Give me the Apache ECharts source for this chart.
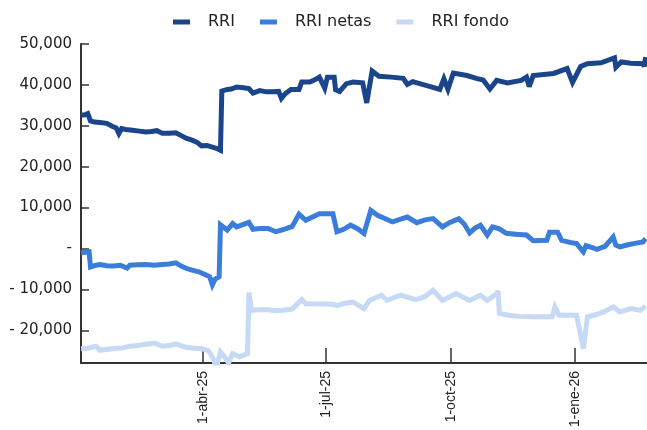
<!DOCTYPE html>
<html>
<head>
<meta charset="utf-8">
<script src="https://cdn.jsdelivr.net/npm/echarts@6/dist/echarts.min.js"></script>
<style>
html,body{margin:0;padding:0;background:#fff;}
#chart{width:647px;height:430px;}
</style>
</head>
<body>
<div id="chart"></div>
<script>
const seriesNames = ['RRI', 'RRI netas', 'RRI fondo'];

const rriDates = ['2025-01-01','2025-01-04','2025-01-06','2025-01-08','2025-01-11','2025-01-15','2025-01-20','2025-01-24','2025-01-27','2025-01-29','2025-01-31','2025-02-03','2025-02-08','2025-02-13','2025-02-18','2025-02-22','2025-02-26','2025-03-02','2025-03-07','2025-03-12','2025-03-16','2025-03-20','2025-03-24','2025-03-28','2025-03-31','2025-04-04','2025-04-08','2025-04-11','2025-04-14','2025-04-15','2025-04-19','2025-04-22','2025-04-26','2025-05-01','2025-05-05','2025-05-08','2025-05-13','2025-05-18','2025-05-23','2025-05-27','2025-05-29','2025-06-01','2025-06-05','2025-06-11','2025-06-13','2025-06-19','2025-06-23','2025-06-26','2025-06-30','2025-07-02','2025-07-07','2025-07-08','2025-07-11','2025-07-16','2025-07-21','2025-07-28','2025-07-31','2025-08-04','2025-08-09','2025-08-18','2025-08-27','2025-08-30','2025-09-03','2025-09-16','2025-09-23','2025-09-26','2025-09-29','2025-10-03','2025-10-13','2025-10-20','2025-10-25','2025-10-30','2025-11-04','2025-11-12','2025-11-22','2025-11-26','2025-11-28','2025-12-01','2025-12-16','2025-12-26','2025-12-30','2026-01-05','2026-01-10','2026-01-20','2026-01-30','2026-01-31','2026-02-04','2026-02-11','2026-02-20','2026-02-21','2026-02-22'];
const rriValues = [32600,32700,33000,31200,30900,30800,30600,29900,29500,28100,29300,29100,28900,28700,28500,28600,28800,28200,28200,28300,27600,26900,26500,25900,25100,25200,24800,24500,24000,38500,38900,39000,39500,39300,39100,38000,38600,38300,38300,38400,36700,37900,38900,38900,40700,40700,41300,41900,39200,41900,41900,38800,38400,40300,40700,40500,35600,43400,42100,41900,41600,40100,40800,39600,38900,41500,38900,42900,42300,41600,41200,39000,41100,40500,41100,41900,39600,42300,42800,44000,40600,44500,45200,45400,46600,44300,45600,45300,45200,44500,46800];

const netasDates = ['2025-01-01','2025-01-04','2025-01-07','2025-01-08','2025-01-12','2025-01-15','2025-01-20','2025-01-25','2025-01-30','2025-02-04','2025-02-06','2025-02-12','2025-02-18','2025-02-24','2025-03-02','2025-03-07','2025-03-12','2025-03-16','2025-03-20','2025-03-24','2025-03-29','2025-04-03','2025-04-06','2025-04-08','2025-04-10','2025-04-13','2025-04-14','2025-04-17','2025-04-19','2025-04-23','2025-04-26','2025-05-01','2025-05-05','2025-05-08','2025-05-13','2025-05-19','2025-05-25','2025-05-29','2025-06-02','2025-06-06','2025-06-11','2025-06-16','2025-06-21','2025-06-26','2025-07-06','2025-07-09','2025-07-14','2025-07-19','2025-07-24','2025-07-29','2025-08-03','2025-08-08','2025-08-13','2025-08-19','2025-08-25','2025-08-30','2025-09-06','2025-09-12','2025-09-18','2025-09-25','2025-09-30','2025-10-07','2025-10-11','2025-10-15','2025-10-19','2025-10-23','2025-10-28','2025-11-01','2025-11-06','2025-11-11','2025-11-18','2025-11-26','2025-12-01','2025-12-11','2025-12-13','2025-12-19','2025-12-22','2025-12-28','2026-01-02','2026-01-07','2026-01-09','2026-01-13','2026-01-17','2026-01-23','2026-01-29','2026-01-31','2026-02-03','2026-02-09','2026-02-15','2026-02-20','2026-02-22'];
const netasValues = [-1100,-900,-800,-4500,-4100,-3900,-4200,-4300,-4100,-4800,-4100,-4000,-3900,-4100,-3900,-3800,-3500,-4300,-4900,-5300,-5700,-6400,-6900,-8900,-7500,-6900,5800,5000,4500,6100,5300,5900,6400,4700,4900,4900,4100,4500,4900,5400,8400,6900,7700,8500,8500,4100,4700,5700,4900,3700,9300,8100,7400,6500,7200,7700,6300,7000,7300,5300,6300,7300,6000,3800,5000,5700,3300,5300,4800,3700,3500,3300,1900,2000,4000,4000,2000,1500,1200,-800,700,300,-200,500,2800,800,400,900,1300,1600,2400];

const fondoDates = ['2025-01-01','2025-01-06','2025-01-12','2025-01-15','2025-01-24','2025-02-01','2025-02-06','2025-02-12','2025-02-18','2025-02-24','2025-03-02','2025-03-07','2025-03-12','2025-03-20','2025-03-31','2025-04-05','2025-04-08','2025-04-11','2025-04-14','2025-04-17','2025-04-20','2025-04-23','2025-04-28','2025-05-04','2025-05-05','2025-05-07','2025-05-12','2025-05-18','2025-05-24','2025-05-30','2025-06-06','2025-06-13','2025-06-16','2025-06-26','2025-07-04','2025-07-09','2025-07-15','2025-07-21','2025-07-29','2025-08-02','2025-08-11','2025-08-15','2025-08-25','2025-09-05','2025-09-12','2025-09-18','2025-09-25','2025-10-05','2025-10-15','2025-10-23','2025-10-28','2025-11-04','2025-11-05','2025-11-06','2025-11-14','2025-11-21','2025-12-03','2025-12-15','2025-12-17','2025-12-20','2026-01-02','2026-01-07','2026-01-10','2026-01-16','2026-01-22','2026-01-29','2026-02-03','2026-02-11','2026-02-18','2026-02-22'];
const fondoValues = [-24500,-24400,-23900,-24900,-24500,-24300,-23900,-23700,-23400,-23100,-23900,-23700,-23400,-24200,-24500,-25000,-26500,-29000,-25300,-26500,-28000,-25700,-26500,-25700,-10800,-15100,-15000,-14900,-15200,-15100,-14800,-12500,-13500,-13600,-13600,-13900,-13400,-13100,-14700,-12700,-11400,-12700,-11400,-12500,-11800,-10200,-12700,-11000,-12700,-11400,-12700,-11000,-10400,-15900,-16400,-16600,-16700,-16700,-14300,-16300,-16300,-24500,-16700,-16200,-15500,-14300,-15500,-14700,-15100,-14100];

const xTickDates = ['2025-04-01','2025-07-01','2025-10-01','2026-01-01'];
const yTickValues = [-20000,-10000,0,10000,20000,30000,40000,50000];
const monthNames = ['ene','feb','mar','abr','may','jun','jul','ago','sep','oct','nov','dic'];

const colors = ['#1b458a','#3b7ddb','#c6d9f5'];

function ts(s){ const p=s.split('-').map(Number); return Date.UTC(p[0],p[1]-1,p[2]); }
function zip(d, v){ return d.map((x,i)=>[ts(x), v[i]]); }

const lineStyle = (c)=>({width:5, color:c, join:'miter', miterLimit:3});

const chart = echarts.init(document.getElementById('chart'), null, {renderer:'canvas'});
chart.setOption({
  animation:false,
  color: colors,
  legend:{
    left:168, top:9,
    itemWidth:17, itemHeight:5, itemGap:25,
    icon:'rect',
    textStyle:{fontFamily:'DejaVu Sans', fontSize:16, color:'#222', padding:[0,0,0,13]},
    data: seriesNames
  },
  grid:{left:81, right:0, top:44, bottom:67, outerBoundsMode:'none', containLabel:false},
  xAxis:{
    type:'value',
    min: ts('2025-01-01'), max: ts('2026-02-23'),
    axisLine:{show:true, onZero:false, lineStyle:{color:'#333', width:2}},
    axisTick:{show:true, inside:true, length:15, lineStyle:{color:'#333', width:1.5}, customValues: xTickDates.map(ts)},
    axisLabel:{
      rotate:90, margin:8, fontFamily:'Liberation Sans', fontSize:14, color:'#222',
      customValues: xTickDates.map(ts),
      formatter: function(v){ const d=new Date(v); return '1-'+monthNames[d.getUTCMonth()]+'-'+String(d.getUTCFullYear()).slice(2); }
    },
    splitLine:{show:false}
  },
  yAxis:{
    type:'value', min:-28000, max:50000,
    axisLine:{show:true, lineStyle:{color:'#333', width:2}},
    axisTick:{show:true, inside:true, length:8, lineStyle:{color:'#333', width:1.5}, customValues: yTickValues},
    axisLabel:{
      margin:9, fontFamily:'DejaVu Sans', fontSize:15, color:'#222',
      customValues: yTickValues,
      formatter: function(v){ if(v===0) return '-'; const s=Math.abs(v).toLocaleString('en-US'); return v<0 ? '- '+s : s; }
    },
    splitLine:{show:false}
  },
  series:[
    {name:seriesNames[0], type:'line', showSymbol:false, data: zip(rriDates, rriValues), lineStyle:lineStyle(colors[0]), itemStyle:{color:colors[0]}},
    {name:seriesNames[1], type:'line', showSymbol:false, data: zip(netasDates, netasValues), lineStyle:lineStyle(colors[1]), itemStyle:{color:colors[1]}},
    {name:seriesNames[2], type:'line', showSymbol:false, data: zip(fondoDates, fondoValues), lineStyle:lineStyle(colors[2]), itemStyle:{color:colors[2]}}
  ]
});
</script>
</body>
</html>
